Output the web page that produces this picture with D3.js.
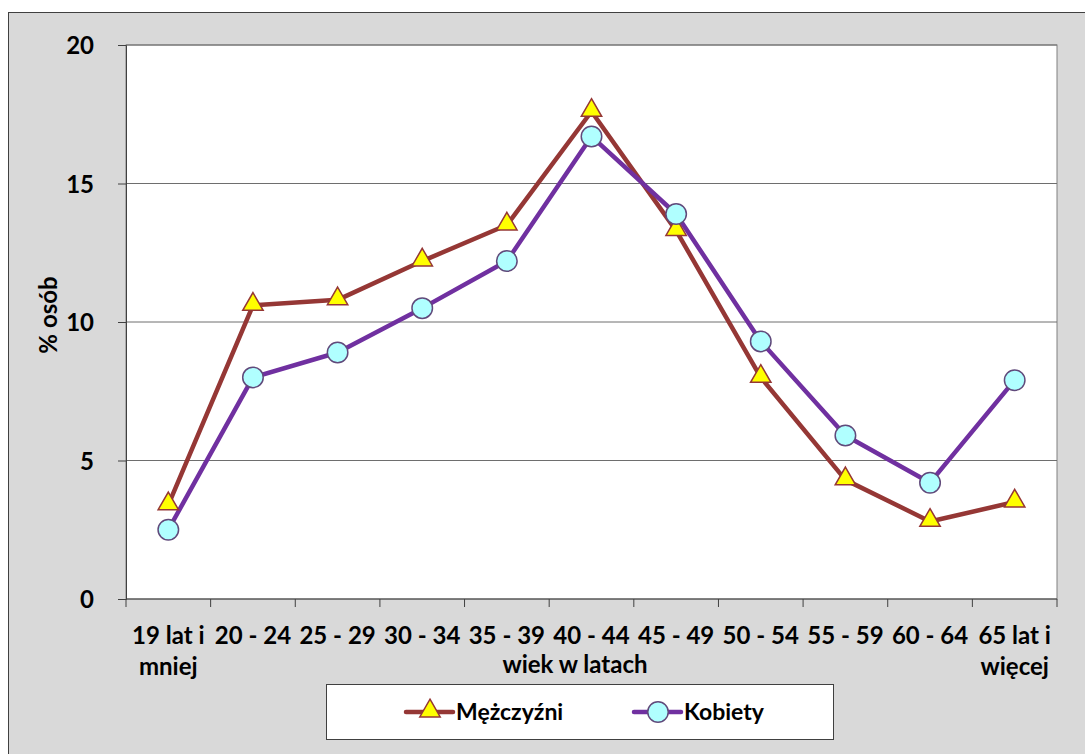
<!DOCTYPE html>
<html><head><meta charset="utf-8">
<script src="https://cdn.jsdelivr.net/npm/d3@7"></script>
<style>body{margin:0;background:#fff}svg{display:block}text{font-family:Lato,"Open Sans",sans-serif;font-weight:bold;fill:#000}</style>
</head><body><svg id="c" width="1085" height="754"></svg>
<script>
const categories = [["19 lat i","mniej"],["20 - 24"],["25 - 29"],["30 - 34"],["35 - 39"],["40 - 44"],["45 - 49"],["50 - 54"],["55 - 59"],["60 - 64"],["65 lat i","więcej"]];
const men = [3.4,10.6,10.8,12.2,13.5,17.6,13.3,8.0,4.3,2.8,3.5];
const women = [2.5,8.0,8.9,10.5,12.2,16.7,13.9,9.3,5.9,4.2,7.9];
const yTicks = [0,5,10,15,20];
const seriesNames = ["Mężczyźni","Kobiety"];

const FS = "24px";
const svg = d3.select("#c");
svg.append("rect").attr("x",0).attr("y",0).attr("width",1085).attr("height",754).attr("fill","#fff");
svg.append("rect").attr("x",8.5).attr("y",12.5).attr("width",1080).attr("height",750).attr("fill","#d9d9d9").attr("stroke","#404040").attr("stroke-width",1);

const L=126,R=1057,T=45,B=599;
const x = d3.scaleBand().domain(d3.range(categories.length)).range([L,R]);
const y = d3.scaleLinear().domain([0,20]).range([B,T]);
svg.append("rect").attr("x",L).attr("y",T).attr("width",R-L).attr("height",B-T).attr("fill","#fff").attr("stroke","#808080");

svg.append("g").selectAll("line").data(yTicks.filter(d=>d>0)).join("line")
  .attr("x1",L).attr("x2",R).attr("y1",d=>y(d)).attr("y2",d=>y(d)).attr("stroke","#6e6e6e").attr("stroke-width",1);

const ya = svg.append("g").attr("transform",`translate(${L},0)`).call(d3.axisLeft(y).tickValues(yTicks).tickSize(8).tickPadding(24));
ya.select(".domain").attr("stroke","#404040");
ya.selectAll(".tick line").attr("stroke","#404040");
ya.selectAll(".tick text").style("font-size",FS).style("font-family","Lato").style("font-weight","bold").attr("dy","0.36em");

const xg = svg.append("g");
xg.append("line").attr("x1",L).attr("x2",R).attr("y1",B).attr("y2",B).attr("stroke","#404040");
xg.selectAll("line.t").data(d3.range(categories.length+1)).join("line").attr("class","t")
  .attr("x1",i=>i<categories.length?x(i):R).attr("x2",i=>i<categories.length?x(i):R)
  .attr("y1",B).attr("y2",B+8).attr("stroke","#404040");
xg.selectAll("text").data(categories).join("text")
  .attr("x",(d,i)=>x(i)+x.bandwidth()/2).attr("y",644).attr("text-anchor","middle").style("font-size",FS)
  .each(function(d){const t=d3.select(this);d.forEach((s,j)=>t.append("tspan").attr("x",t.attr("x")).attr("dy",j?31:0).text(s));});

svg.append("text").attr("x",575).attr("y",673).attr("text-anchor","middle").style("font-size",FS).text("wiek w latach");
svg.append("text").attr("transform","translate(57,315) rotate(-90)").attr("text-anchor","middle").style("font-size",FS).text("% osób");

const cx = i=>x(i)+x.bandwidth()/2;
const line = d3.line().x((d,i)=>cx(i)).y(d=>y(d));
const menColor="#953735", womenColor="#7030a0";
svg.append("path").datum(men).attr("d",line).attr("fill","none").attr("stroke",menColor).attr("stroke-width",4.5).attr("stroke-linejoin","round");
svg.append("path").datum(women).attr("d",line).attr("fill","none").attr("stroke",womenColor).attr("stroke-width",4.5).attr("stroke-linejoin","round");
const tri = d3.symbol().type(d3.symbolTriangle).size(180);
const circ = d3.symbol().type(d3.symbolCircle).size(330);
svg.append("g").selectAll("path").data(men).join("path").attr("d",tri)
  .attr("transform",(d,i)=>`translate(${cx(i)},${y(d)-1})`).attr("fill","#ffff00").attr("stroke",menColor).attr("stroke-width",1.5);
svg.append("g").selectAll("path").data(women).join("path").attr("d",circ)
  .attr("transform",(d,i)=>`translate(${cx(i)},${y(d)})`).attr("fill","#b0ffff").attr("stroke","#604a7b").attr("stroke-width",1.5);

const lg = svg.append("g");
lg.append("rect").attr("x",326.5).attr("y",684.5).attr("width",507).attr("height",55).attr("fill","#fff").attr("stroke","#404040");
const items=[{x:406,c:menColor,s:tri,f:"#ffff00",st:menColor,n:seriesNames[0],dy:-1},{x:634,c:womenColor,s:circ,f:"#b0ffff",st:"#604a7b",n:seriesNames[1],dy:0}];
items.forEach(it=>{
  lg.append("line").attr("x1",it.x).attr("x2",it.x+47).attr("y1",712).attr("y2",712).attr("stroke",it.c).attr("stroke-width",4.5).attr("stroke-linecap","round");
  lg.append("path").attr("d",it.s).attr("transform",`translate(${it.x+24},${712+it.dy})`).attr("fill",it.f).attr("stroke",it.st).attr("stroke-width",1.5);
  lg.append("text").attr("x",it.x+50).attr("y",720).style("font-size","23px").text(it.n);
});
</script></body></html>
